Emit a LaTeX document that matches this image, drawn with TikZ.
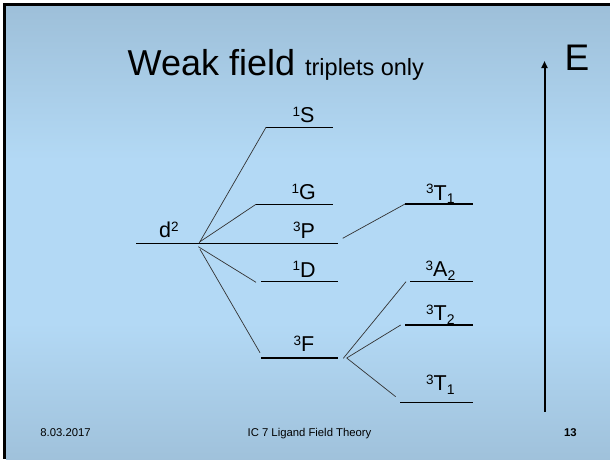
\documentclass[tikz,border=0pt]{standalone}
\usepackage{fontspec}
\setmainfont{Liberation Sans}
\usetikzlibrary{arrows.meta}
\definecolor{bgtop}{HTML}{7E9AB0}
\definecolor{bgmid}{HTML}{B3D9F5}
\definecolor{bgbot}{HTML}{7F9AB0}
\pgfdeclareverticalshading{slidebg}{100bp}{color(0bp)=(bgbot); color(40bp)=(bgmid); color(58bp)=(bgmid); color(100bp)=(bgtop)}
\newcommand\spx[1]{{\fontsize{13.5}{14}\selectfont\raisebox{6.3pt}{#1}}}
\newcommand\sbx[1]{{\fontsize{14}{14}\selectfont\raisebox{-3.5pt}{#1}}}
\begin{document}
\begin{tikzpicture}[x=1pt,y=-1pt,
  level/.style={line width=1.2pt,black},
  conn/.style={line width=0.7pt,black!80},
  lab/.style={anchor=base west,inner sep=0pt,font=\fontsize{21.5}{24}\selectfont},
  foot/.style={anchor=base west,inner sep=0pt,font=\fontsize{11.3}{13}\selectfont}]
\useasboundingbox (0,0) rectangle (610,459);
\fill[white] (0,0) rectangle (610,459);
\fill[black] (3,3) rectangle (610,459);
\shade[shading=slidebg] (6,6) rectangle (610,459);

% title
\node[anchor=base west,inner sep=0pt,font=\fontsize{36}{40}\selectfont] (title) at (127.5,75)
  {Weak field {\fontsize{23.5}{26}\selectfont triplets only}};
\node[anchor=base west,inner sep=0pt,font=\fontsize{37}{40}\selectfont] (E) at (564.5,70.7) {E};
\coordinate (ea) at (544.5,411.7);
\coordinate (eb) at (544.5,61);
\draw[line width=2pt,-{Triangle[length=7pt,width=6pt]}] (ea) -- (eb);

% level end points
\coordinate (d2a) at (136,243.3);
\coordinate (fan) at (199,243.3);
\coordinate (Pb) at (338,243.3);
\coordinate (Sa) at (266,127.3);
\coordinate (Sb) at (333,127.3);
\coordinate (Ga) at (256,204.3);
\coordinate (Gb) at (333,204.3);
\coordinate (Da) at (261,281.5);
\coordinate (Db) at (338,281.5);
\coordinate (Fa) at (261,358);
\coordinate (Fb) at (338,358);
\coordinate (T1a) at (405,204);
\coordinate (T1b) at (472.7,204);
\coordinate (A2a) at (410,281.3);
\coordinate (A2b) at (472.7,281.3);
\coordinate (T2a) at (405,325);
\coordinate (T2b) at (472.7,325);
\coordinate (T1la) at (400,402.3);
\coordinate (T1lb) at (472.7,402.3);

\draw[level] (d2a) -- (fan);
\draw[level] (fan) -- (Pb);
\foreach \a/\b in {Sa/Sb,Ga/Gb,Da/Db,Fa/Fb,T1a/T1b,A2a/A2b,T2a/T2b,T1la/T1lb}
  \draw[level] (\a) -- (\b);

% connector ends
\coordinate (fG) at (200,241.7);
\coordinate (fD) at (198.3,246.7);
\coordinate (fF) at (200,249.3);
\coordinate (cD) at (256,282.3);
\coordinate (cF) at (260,352.7);
\coordinate (pP) at (342.7,238.3);
\coordinate (pF1) at (343.3,358.3);
\coordinate (pF2) at (346.7,358);
\coordinate (cA2) at (406,281.7);
\coordinate (cT2) at (400.7,325);
\coordinate (cT1l) at (395.7,396.7);

\draw[conn] (fan) -- (Sa);
\draw[conn] (fG) -- (Ga);
\draw[conn] (fD) -- (cD);
\draw[conn] (fF) -- (cF);
\draw[conn] (pP) -- (T1a);
\draw[conn] (pF1) -- (cA2);
\draw[conn] (pF2) -- (cT2);
\draw[conn] (pF2) -- (cT1l);

% labels
\node[lab] (d2) at (159,237.7) {d\spx{2}};
\node[lab] (S) at (292.5,122.3) {\spx{1}S};
\node[lab] (G) at (291.5,199.5) {\spx{1}G};
\node[lab] (P) at (293,238) {\spx{3}P};
\node[lab] (D) at (292.5,277) {\spx{1}D};
\node[lab] (F) at (293.5,351.7) {\spx{3}F};
\node[lab] (T1) at (426,200) {\spx{3}T\sbx{1}};
\node[lab] (A2) at (425.5,276.7) {\spx{3}A\sbx{2}};
\node[lab] (T2) at (426,320.7) {\spx{3}T\sbx{2}};
\node[lab] (T1l) at (426,390.7) {\spx{3}T\sbx{1}};

% footer
\node[foot] (date) at (40.2,436) {8.03.2017};
\node[foot,anchor=base] (course) at (309.5,436) {IC 7 Ligand Field Theory};
\node[foot,font=\fontsize{11.3}{13}\selectfont\bfseries] (page) at (564,436) {13};
\end{tikzpicture}
\end{document}
